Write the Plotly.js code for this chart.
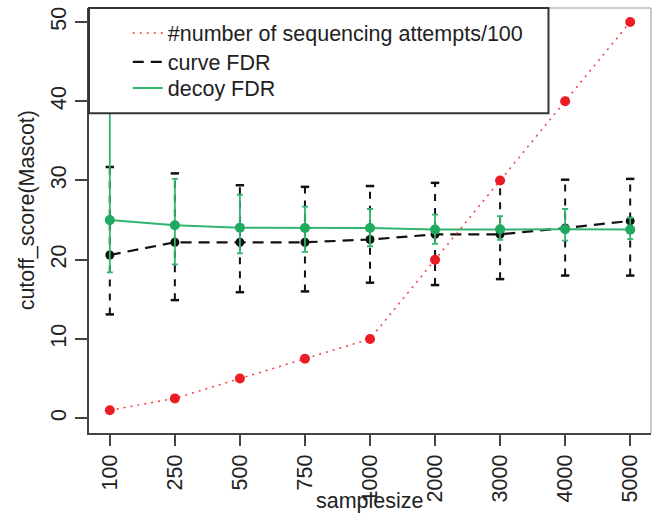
<!DOCTYPE html>
<html>
<head>
<meta charset="utf-8">
<script src="https://cdn.plot.ly/plotly-3.0.1.min.js"></script>
<style>html,body{margin:0;padding:0;background:#fff}#chart{width:662px;height:516px}</style>
</head>
<body>
<div id="chart"></div>
<script>
// ---- data ----
const sampleSizes = ["100","250","500","750","1000","2000","3000","4000","5000"];
const attempts = [1, 2.5, 5, 7.5, 10, 20, 30, 40, 50];           // #sequencing attempts / 100
const curveFDR = [20.6, 22.2, 22.2, 22.2, 22.55, 23.2, 23.2, 24.0, 24.9];
const curveLow = [13.1, 14.9, 15.9, 16.0, 17.1, 16.8, 17.55, 18.0, 18.0];
const curveHigh = [31.7, 30.9, 29.4, 29.2, 29.3, 29.7, 29.9, 30.1, 30.2];
const decoyFDR = [25.0, 24.35, 24.05, 24.0, 24.0, 23.8, 23.85, 23.85, 23.8];
const decoyLow = [18.4, 19.4, 20.8, 21.0, 21.7, 22.0, 22.5, 22.4, 22.6];
const decoyHigh = [38.7, 30.2, 28.2, 26.7, 26.4, 25.7, 25.5, 26.4, 25.3];
const yTicks = [0, 10, 20, 30, 40, 50];

// ---- build ----
const RED = "rgb(236,28,36)";
const REDLINE = "rgb(238,60,66)";
const BLACK = "#111111";
const GREEN = "rgb(30,170,95)";
const GREENLINE = "rgb(50,180,110)";
const FONT = "Liberation Sans, Arial, Helvetica, sans-serif";

const ebX = [], ebY = [];
sampleSizes.forEach((c, i) => { ebX.push(c, c, null); ebY.push(curveLow[i], curveHigh[i], null); });

const traces = [
  { // black dashed error bars
    x: ebX, y: ebY, type: "scatter", mode: "lines", showlegend: false, hoverinfo: "skip",
    line: { color: BLACK, width: 2, dash: "7px,7px" }
  },
  { // black caps
    x: sampleSizes.concat(sampleSizes), y: curveLow.concat(curveHigh), type: "scatter", mode: "markers",
    showlegend: false, hoverinfo: "skip",
    marker: { symbol: "line-ew", size: 6, line: { color: BLACK, width: 2.5 } }
  },
  { // curve FDR line
    x: sampleSizes, y: curveFDR, type: "scatter", mode: "lines", name: "curve FDR",
    legend: "legend2",
    line: { color: BLACK, width: 2.2, dash: "11px,7px" }
  },
  { // curve FDR points
    x: sampleSizes, y: curveFDR, type: "scatter", mode: "markers", showlegend: false,
    marker: { color: BLACK, size: 9 }
  },
  { // decoy FDR error bars + line
    x: sampleSizes, y: decoyFDR, type: "scatter", mode: "lines", name: "decoy FDR",
    legend: "legend3",
    line: { color: GREENLINE, width: 2 },
    error_y: {
      type: "data", symmetric: false,
      array: decoyHigh.map((v, i) => v - decoyFDR[i]),
      arrayminus: decoyFDR.map((v, i) => v - decoyLow[i]),
      color: GREENLINE, thickness: 1.8, width: 3
    }
  },
  { // decoy FDR points
    x: sampleSizes, y: decoyFDR, type: "scatter", mode: "markers", showlegend: false,
    marker: { color: GREEN, size: 10 }
  },
  { // red dotted line
    x: sampleSizes, y: attempts, type: "scatter", mode: "lines",
    name: "#number of sequencing attempts/100", legend: "legend",
    line: { color: REDLINE, width: 1.5, dash: "2px,5px" }
  },
  { // red points
    x: sampleSizes, y: attempts, type: "scatter", mode: "markers", showlegend: false,
    marker: { color: RED, size: 10 }
  }
];

function legendAt(y) {
  return {
    x: 0.069, y: y, xanchor: "left", yanchor: "top",
    bgcolor: "rgba(0,0,0,0)", borderwidth: 0,
    font: { family: FONT, size: 21.5, color: "#222" }
  };
}

const layout = {
  width: 662, height: 516,
  margin: { l: 89, r: 11, t: 8, b: 83 },
  paper_bgcolor: "#fff", plot_bgcolor: "#fff",
  font: { family: FONT, size: 21, color: "#222" },
  showlegend: true,
  legend: legendAt(0.9894),
  legend2: legendAt(0.9212),
  legend3: legendAt(0.8601),
  xaxis: {
    type: "category", range: [-0.32, 8.32],
    showline: true, linecolor: "#444", linewidth: 2,
    ticks: "outside", ticklen: 11, tickwidth: 2, tickcolor: "#444",
    tickangle: -90, tickfont: { family: FONT, size: 21.5, color: "#222" },
    showgrid: false, zeroline: false
  },
  yaxis: {
    range: [-1.87, 51.77], tickvals: yTicks, ticktext: yTicks.map(String),
    showline: true, linecolor: "#444", linewidth: 2,
    ticks: "outside", ticklen: 12, tickwidth: 2, tickcolor: "#444",
    tickangle: -90, tickfont: { family: FONT, size: 21.5, color: "#222" },
    showgrid: false, zeroline: false
  },
  shapes: [
    { type: "line", xref: "paper", yref: "paper", x0: 0, x1: 1, y0: 1, y1: 1, line: { color: "#bbb", width: 1.5 } },
    { type: "line", xref: "paper", yref: "paper", x0: 1, x1: 1, y0: 0, y1: 1, line: { color: "#bbb", width: 1.5 } },
    { type: "rect", xref: "paper", yref: "paper", x0: 0, x1: 0.8176, y0: 0.7524, y1: 1,
      fillcolor: "#fff", line: { color: "#333", width: 2 }, layer: "above" }
  ],
  annotations: [
    { text: "samplesize", xref: "paper", yref: "paper", x: 0.5, y: -0.16, xanchor: "center", yanchor: "middle",
      showarrow: false, font: { family: FONT, size: 21.5, color: "#222" } },
    { text: "cutoff_score(Mascot)", xref: "paper", yref: "paper", x: -0.111, y: 0.523, xanchor: "center", yanchor: "middle",
      textangle: -90, showarrow: false, font: { family: FONT, size: 21.5, color: "#222" } }
  ]
};

Plotly.newPlot("chart", traces, layout, { displayModeBar: false, staticPlot: true });
</script>
</body>
</html>
